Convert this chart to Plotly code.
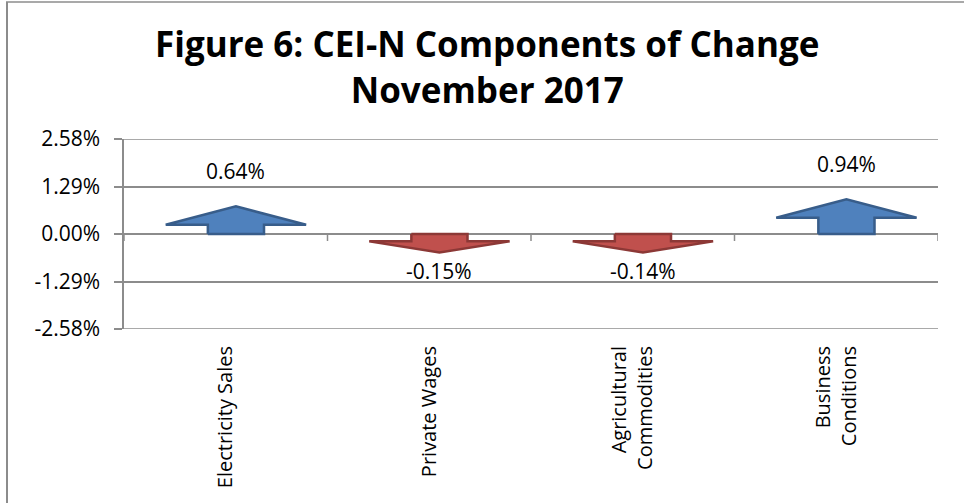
import plotly.graph_objects as go

# ---- data ----
categories = ["Electricity Sales", "Private Wages", "Agricultural<br>Commodities", "Business<br>Conditions"]
values = [0.64, -0.15, -0.14, 0.94]          # percent change
y_ticks = [-2.58, -1.29, 0.0, 1.29, 2.58]
y_ticklabels = ["-2.58%", "-1.29%", "0.00%", "1.29%", "2.58%"]

title_text = "Figure 6: CEI-N Components of Change<br>November 2017"

# ---- style ----
FONT = "Open Sans"
UP_FILL, UP_LINE = "#4F81BD", "#385D8A"
DN_FILL, DN_LINE = "#C0504D", "#8C3836"
GRID = "#8C8C8C"
SHAFT_HALF = 0.138     # category units
HEAD_HALF = 0.345
X_OFFSET = 0.05
HEAD_UP, MIN_SHAFT_UP = 0.5, 0.25
HEAD_DN, MIN_SHAFT_DN = 0.3, 0.2

L, R, T, B = 124, 26, 139, 174
W, H = 964, 503
pw, ph = W - L - R, H - T - B

fig = go.Figure()

x_idx = list(range(len(categories)))
for i, v in zip(x_idx, values):
    up = v >= 0
    s = 1 if up else -1
    head = HEAD_UP if up else HEAD_DN
    mins = MIN_SHAFT_UP if up else MIN_SHAFT_DN
    shaft = max(abs(v) - head, mins)
    tip = s * (shaft + head)
    base = s * shaft
    cx = i + X_OFFSET
    xs = [cx - SHAFT_HALF, cx - SHAFT_HALF, cx - HEAD_HALF, cx, cx + HEAD_HALF,
          cx + SHAFT_HALF, cx + SHAFT_HALF, cx - SHAFT_HALF]
    ys = [0, base, base, tip, base, base, 0, 0]
    fig.add_trace(go.Scatter(
        x=xs, y=ys, mode="lines", fill="toself",
        fillcolor=UP_FILL if up else DN_FILL,
        line=dict(color=UP_LINE if up else DN_LINE, width=2.5),
        hoverinfo="skip", showlegend=False))
    fig.add_annotation(
        x=cx, y=tip, xref="x", yref="y",
        text=f"{v:.2f}%", showarrow=False,
        yshift=35 if up else -19, yanchor="middle",
        font=dict(family=FONT, size=21, color="#000000"))

# zero axis line and category tick marks
fig.add_shape(type="line", xref="x", yref="y", x0=-0.5, x1=len(categories) - 0.5,
              y0=0, y1=0, line=dict(color=GRID, width=1.5), layer="below")
for k in range(len(categories) + 1):
    fig.add_shape(type="line", xref="x", yref="y", x0=k - 0.5, x1=k - 0.5,
                  ysizemode="pixel", yanchor=0, y0=0, y1=-7,
                  line=dict(color=GRID, width=1.5))

# top / bottom gridlines at the range edges
for yv in (y_ticks[0], y_ticks[-1]):
    fig.add_shape(type="line", xref="paper", yref="y", x0=0, x1=1, y0=yv, y1=yv,
                  line=dict(color=GRID, width=1.5), layer="below")

# outer chart frame (left and top edges visible)
def px_x(p):
    return (p - L) / pw

def px_y(p):
    return (H - B - p) / ph

fig.add_shape(type="line", xref="paper", yref="paper",
              x0=px_x(7), x1=px_x(7), y0=px_y(2), y1=px_y(H + 5),
              line=dict(color="#8C8C8C", width=2))
fig.add_shape(type="line", xref="paper", yref="paper",
              x0=px_x(6), x1=px_x(W + 5), y0=px_y(2), y1=px_y(2),
              line=dict(color="#8C8C8C", width=1.5))

fig.add_annotation(text=title_text, xref="paper", yref="paper",
                   x=px_x(487), y=px_y(67), showarrow=False,
                   xanchor="center", yanchor="middle",
                   font=dict(family=FONT, size=35, color="#000000", weight="bold"))

fig.update_layout(
    width=W, height=H,
    margin=dict(l=L, r=R, t=T, b=B),
    paper_bgcolor="white", plot_bgcolor="white",
    font=dict(family=FONT, color="#000000"),
    showlegend=False,
    xaxis=dict(range=[-0.5, len(categories) - 0.5], tickvals=x_idx, ticktext=categories,
               tickangle=-90, showgrid=False, zeroline=False, showline=False,
               ticks="outside", ticklen=8, tickcolor="rgba(0,0,0,0)",
               tickfont=dict(family=FONT, size=20, color="#000000")),
    yaxis=dict(range=[y_ticks[0], y_ticks[-1]], tickvals=y_ticks, ticktext=y_ticklabels,
               showgrid=True, gridcolor=GRID, gridwidth=1.5, zeroline=False,
               showline=True, linecolor=GRID, linewidth=1.5,
               ticks="outside", ticklen=8, tickcolor=GRID, tickwidth=1.5,
               ticklabelstandoff=10,
               tickfont=dict(family=FONT, size=21, color="#000000")),
)

fig.write_html("out.html", config={"displayModeBar": False},
               post_script="document.body.style.margin='0';")
